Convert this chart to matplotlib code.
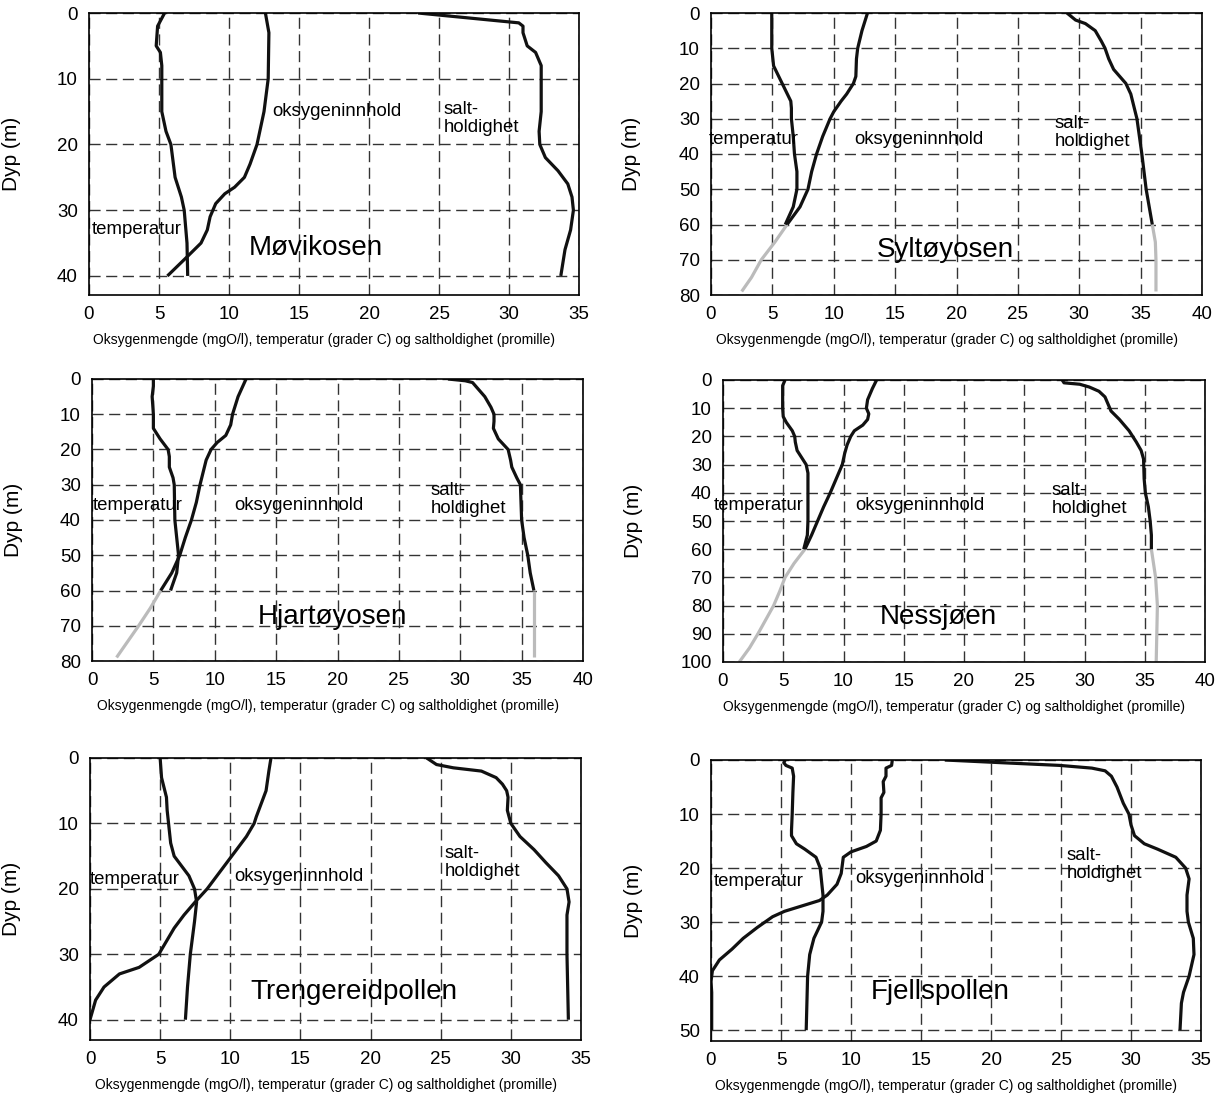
import matplotlib.pyplot as plt

plt.rcParams['font.family'] = ['Liberation Sans', 'DejaVu Sans']

W, H = 1218, 1095
XLABEL = "Oksygenmengde (mgO/l), temperatur (grader C) og saltholdighet (promille)"
BLACK = "#111111"
GREY = "#bbbbbb"

# --- Møvikosen ---
mov_temp_d = [0, 2, 5, 6, 8, 15, 18, 20, 25, 28, 30, 35, 40]
mov_temp = [5.4, 4.9, 4.8, 5.1, 5.2, 5.2, 5.5, 5.85, 6.15, 6.6, 6.8, 7.0, 7.05]
mov_oxy_d = [0, 3, 10, 15, 18, 20, 23, 25, 26.5, 27.5, 29, 31, 33, 35, 37, 40]
mov_oxy = [12.6, 12.85, 12.8, 12.5, 12.2, 12.0, 11.5, 11.1, 10.4, 9.7, 9.05, 8.65, 8.45, 8.0, 7.05, 5.6]
mov_sal_d = [0, 1.5, 2, 3, 5, 6, 8, 10, 15, 18, 20, 22, 24, 26, 28, 30, 33, 36, 40]
mov_sal = [23.5, 30.7, 31.0, 31.0, 31.3, 31.9, 32.3, 32.3, 32.3, 32.15, 32.2, 32.6, 33.5, 34.2, 34.5, 34.6, 34.4, 34.0, 33.7]

# --- Syltøyosen ---
syl_temp_d = [0, 10, 15, 20, 25, 27, 30, 35, 40, 45, 50, 55, 60]
syl_temp = [4.95, 4.95, 5.1, 5.8, 6.5, 6.55, 6.55, 6.7, 6.8, 7.0, 7.0, 6.7, 6.05]
syl_oxy_d = [0, 5, 10, 13, 18, 20, 23, 25, 28, 30, 35, 40, 45, 50, 55, 60]
syl_oxy = [12.75, 12.3, 11.95, 11.85, 11.8, 11.6, 11.05, 10.6, 10.0, 9.7, 9.1, 8.6, 8.2, 7.9, 7.25, 6.2]
syl_oxy_ext_d = [60, 65, 70, 75, 79]
syl_oxy_ext = [6.2, 5.2, 4.1, 3.3, 2.5]
syl_sal_d = [0, 2, 3, 5, 8, 10, 13, 16, 18, 20, 23, 30, 40, 50, 60]
syl_sal = [29.0, 29.7, 30.5, 31.3, 31.8, 32.1, 32.4, 32.8, 33.3, 33.8, 34.2, 34.7, 35.1, 35.45, 35.95]
syl_sal_ext_d = [60, 65, 70, 79]
syl_sal_ext = [35.95, 36.2, 36.25, 36.25]

# --- Hjartøyosen ---
hja_temp_d = [0, 2, 5, 10, 14, 17, 20, 22, 25, 28, 30, 40, 45, 50, 55, 60]
hja_temp = [5.0, 5.0, 4.9, 5.0, 5.0, 5.55, 6.2, 6.3, 6.3, 6.6, 6.7, 6.75, 6.9, 7.05, 6.9, 6.4]
hja_oxy_d = [0, 5, 10, 13, 16, 18, 20, 23, 30, 35, 40, 45, 50, 55, 60]
hja_oxy = [12.55, 11.9, 11.45, 11.3, 10.9, 10.2, 9.7, 9.3, 8.8, 8.5, 8.1, 7.6, 7.15, 6.5, 5.6]
hja_oxy_ext_d = [60, 65, 70, 75, 79]
hja_oxy_ext = [5.6, 4.75, 3.8, 2.8, 2.0]
hja_sal_d = [0, 0.5, 1, 3, 5, 8, 10, 12, 14, 17, 20, 23, 25, 28, 30, 40, 45, 50, 55, 60]
hja_sal = [29.0, 30.4, 31.0, 31.5, 32.0, 32.5, 32.75, 32.75, 32.7, 33.1, 33.9, 34.1, 34.2, 34.6, 34.9, 35.0, 35.2, 35.5, 35.7, 36.0]
hja_sal_ext_d = [60, 79]
hja_sal_ext = [36.0, 36.0]

# --- Nessjøen ---
nes_temp_d = [0, 2, 5, 10, 13, 15, 18, 20, 22, 25, 27, 30, 33, 40, 50, 55, 60]
nes_temp = [5.15, 4.95, 4.95, 4.95, 5.0, 5.25, 5.75, 5.95, 6.0, 6.15, 6.45, 6.9, 7.05, 7.05, 7.05, 7.0, 6.7]
nes_oxy_d = [0, 3, 7, 10, 12, 14, 16, 18, 20, 23, 26, 30, 35, 40, 45, 50, 55, 60]
nes_oxy = [12.75, 12.4, 12.0, 11.9, 12.1, 12.0, 11.6, 10.9, 10.6, 10.3, 10.1, 9.9, 9.4, 8.9, 8.35, 7.85, 7.35, 6.8]
nes_oxy_ext_d = [60, 65, 70, 75, 80, 85, 90, 95, 100]
nes_oxy_ext = [6.8, 5.9, 5.15, 4.7, 4.2, 3.55, 2.9, 2.2, 1.35]
nes_sal_d = [0, 1, 1.5, 2.5, 4, 6, 8, 11, 14, 18, 22, 25, 28, 35, 40, 45, 50, 55, 60]
nes_sal = [28.15, 28.3, 29.6, 30.4, 31.2, 31.7, 31.9, 32.2, 32.9, 33.7, 34.3, 34.7, 34.9, 34.95, 35.05, 35.3, 35.45, 35.55, 35.55]
nes_sal_ext_d = [60, 70, 80, 90, 100]
nes_sal_ext = [35.55, 35.9, 36.05, 36.0, 35.95]

# --- Trengereidpollen ---
tre_temp_d = [0, 3, 6, 8, 10, 13, 15, 17, 18, 20, 22, 25, 30, 35, 40]
tre_temp = [5.0, 5.1, 5.45, 5.5, 5.6, 5.75, 6.0, 6.7, 7.05, 7.45, 7.6, 7.45, 7.15, 6.95, 6.8]
tre_oxy_d = [0, 2, 5, 7, 9, 10, 12, 14, 16, 18, 20, 22, 24, 26, 28, 30, 32, 33, 35, 37, 40]
tre_oxy = [12.9, 12.75, 12.55, 12.2, 11.85, 11.7, 11.15, 10.45, 9.75, 9.05, 8.35, 7.5, 6.7, 6.0, 5.45, 4.9, 3.5, 2.1, 1.0, 0.4, 0.0]
tre_sal_d = [0, 1, 1.5, 2, 3, 4, 5, 6, 8, 10, 12, 14, 16, 18, 20, 22, 24, 30, 40]
tre_sal = [24.0, 24.7, 25.9, 27.9, 28.95, 29.4, 29.7, 29.8, 29.75, 30.0, 30.65, 31.65, 32.5, 33.4, 34.0, 34.15, 34.0, 34.0, 34.1]

# --- Fjellspollen ---
fje_temp_d = [0, 0.5, 1, 1.5, 3, 6, 10, 13, 14, 15.5, 16.5, 18, 20, 25, 28, 30, 33, 36, 40, 45, 50]
fje_temp = [5.3, 5.2, 5.35, 5.8, 5.9, 5.85, 5.8, 5.75, 5.75, 6.1, 6.7, 7.5, 7.8, 8.0, 8.0, 7.9, 7.35, 7.05, 6.9, 6.85, 6.8]
fje_oxy_d = [0, 1, 1.5, 3, 4, 6, 7, 10, 13, 15, 16, 17, 18, 19, 21, 23, 25, 26, 27, 28, 29, 31, 33, 35, 37, 39, 41, 43, 50]
fje_oxy = [12.95, 12.9, 12.5, 12.5, 12.3, 12.35, 12.15, 12.15, 12.1, 11.8, 11.1, 10.0, 9.45, 9.4, 9.3, 9.0, 8.3, 7.75, 6.5, 5.25, 4.4, 3.3, 2.3, 1.5, 0.6, 0.1, 0.0, 0.05, 0.05]
fje_sal_d = [0, 0.5, 1, 1.5, 2, 3, 5, 8, 10, 12, 14, 15.5, 16.5, 18, 20, 22, 25, 28, 30, 33, 36, 40, 43, 45, 50]
fje_sal = [16.7, 20.75, 24.9, 27.2, 28.15, 28.6, 29.0, 29.45, 29.85, 30.0, 30.25, 30.95, 31.9, 33.2, 33.9, 34.15, 34.0, 34.0, 34.1, 34.45, 34.5, 34.15, 33.75, 33.6, 33.5]

panels = [
    dict(name="Møvikosen", px=(89, 579, 13, 295), xmax=35, ymax=42.9, yticks=range(0, 41, 10),
         lines=[(mov_temp_d, mov_temp), (mov_oxy_d, mov_oxy), (mov_sal_d, mov_sal)], grey=[],
         temp_pos=(0.2, 32.9), oxy_pos=(13.1, 15.0), sal_pos=(25.35, 16.1), title_pos=(11.4, 35.8), ylab_x=21),
    dict(name="Syltøyosen", px=(711, 1202, 13, 295), xmax=40, ymax=80, yticks=range(0, 81, 10),
         lines=[(syl_temp_d, syl_temp), (syl_oxy_d, syl_oxy), (syl_sal_d, syl_sal)],
         grey=[(syl_oxy_ext_d, syl_oxy_ext), (syl_sal_ext_d, syl_sal_ext)],
         temp_pos=(-0.2, 36.0), oxy_pos=(11.7, 36.0), sal_pos=(28.0, 34.0), title_pos=(13.5, 67.2), ylab_x=641),
    dict(name="Hjartøyosen", px=(92, 583, 379, 661), xmax=40, ymax=80, yticks=range(0, 81, 10),
         lines=[(hja_temp_d, hja_temp), (hja_oxy_d, hja_oxy), (hja_sal_d, hja_sal)],
         grey=[(hja_oxy_ext_d, hja_oxy_ext), (hja_sal_ext_d, hja_sal_ext)],
         temp_pos=(0.05, 36.0), oxy_pos=(11.6, 36.0), sal_pos=(27.6, 34.2), title_pos=(13.5, 67.6), ylab_x=23),
    dict(name="Nessjøen", px=(723, 1205, 380, 662), xmax=40, ymax=100, yticks=range(0, 101, 10),
         lines=[(nes_temp_d, nes_temp), (nes_oxy_d, nes_oxy), (nes_sal_d, nes_sal)],
         grey=[(nes_oxy_ext_d, nes_oxy_ext), (nes_sal_ext_d, nes_sal_ext)],
         temp_pos=(-0.75, 44.6), oxy_pos=(11.0, 44.6), sal_pos=(27.3, 42.4), title_pos=(13.0, 84.0), ylab_x=643),
    dict(name="Trengereidpollen", px=(90, 581, 758, 1040), xmax=35, ymax=43.1, yticks=range(0, 41, 10),
         lines=[(tre_temp_d, tre_temp), (tre_oxy_d, tre_oxy), (tre_sal_d, tre_sal)], grey=[],
         temp_pos=(-0.05, 18.6), oxy_pos=(10.3, 18.1), sal_pos=(25.3, 16.0), title_pos=(11.4, 35.7), ylab_x=21),
    dict(name="Fjellspollen", px=(711, 1201, 760, 1041), xmax=35, ymax=52, yticks=range(0, 51, 10),
         lines=[(fje_temp_d, fje_temp), (fje_oxy_d, fje_oxy), (fje_sal_d, fje_sal)], grey=[],
         temp_pos=(0.22, 22.4), oxy_pos=(10.3, 22.0), sal_pos=(25.4, 19.4), title_pos=(11.4, 43.0), ylab_x=643),
]

fig = plt.figure(figsize=(W / 100, H / 100), dpi=100)

for p in panels:
    l, r, t, b = p["px"]
    ax = fig.add_axes([l / W, 1 - b / H, (r - l) / W, (b - t) / H])
    ax.set_xlim(0, p["xmax"])
    ax.set_ylim(p["ymax"], 0)
    ax.set_xticks(range(0, p["xmax"] + 1, 5))
    ax.set_yticks(list(p["yticks"]))
    ax.set_axisbelow(True)
    ax.grid(True, color="#333333", linewidth=1.0, linestyle=(0, (8, 4)))
    ax.tick_params(length=0, labelsize=13.5, pad=8)
    for s in ax.spines.values():
        s.set_linewidth(1.2)

    for d, v in p["grey"]:
        ax.plot(v, d, color=GREY, linewidth=2.3, solid_capstyle="butt")
    for d, v in p["lines"]:
        ax.plot(v, d, color=BLACK, linewidth=2.3, solid_joinstyle="round", solid_capstyle="butt")

    ax.text(*p["temp_pos"], "temperatur", fontsize=13.4, va="center", ha="left")
    ax.text(*p["oxy_pos"], "oksygeninnhold", fontsize=13.4, va="center", ha="left")
    ax.text(*p["sal_pos"], "salt-\nholdighet", fontsize=13.4, va="center", ha="left", linespacing=1.1)
    ax.text(*p["title_pos"], p["name"], fontsize=20, va="center", ha="left")

    ax.set_ylabel("Dyp (m)", fontsize=15)
    ax.yaxis.set_label_coords((p["ylab_x"] - l) / (r - l), 0.5)
    ax.set_xlabel(XLABEL, fontsize=10, labelpad=6)
    ax.xaxis.set_label_coords(0.48, -0.135)
    ax.xaxis.label.set_va("top")

fig.savefig("out.png", dpi=100)
